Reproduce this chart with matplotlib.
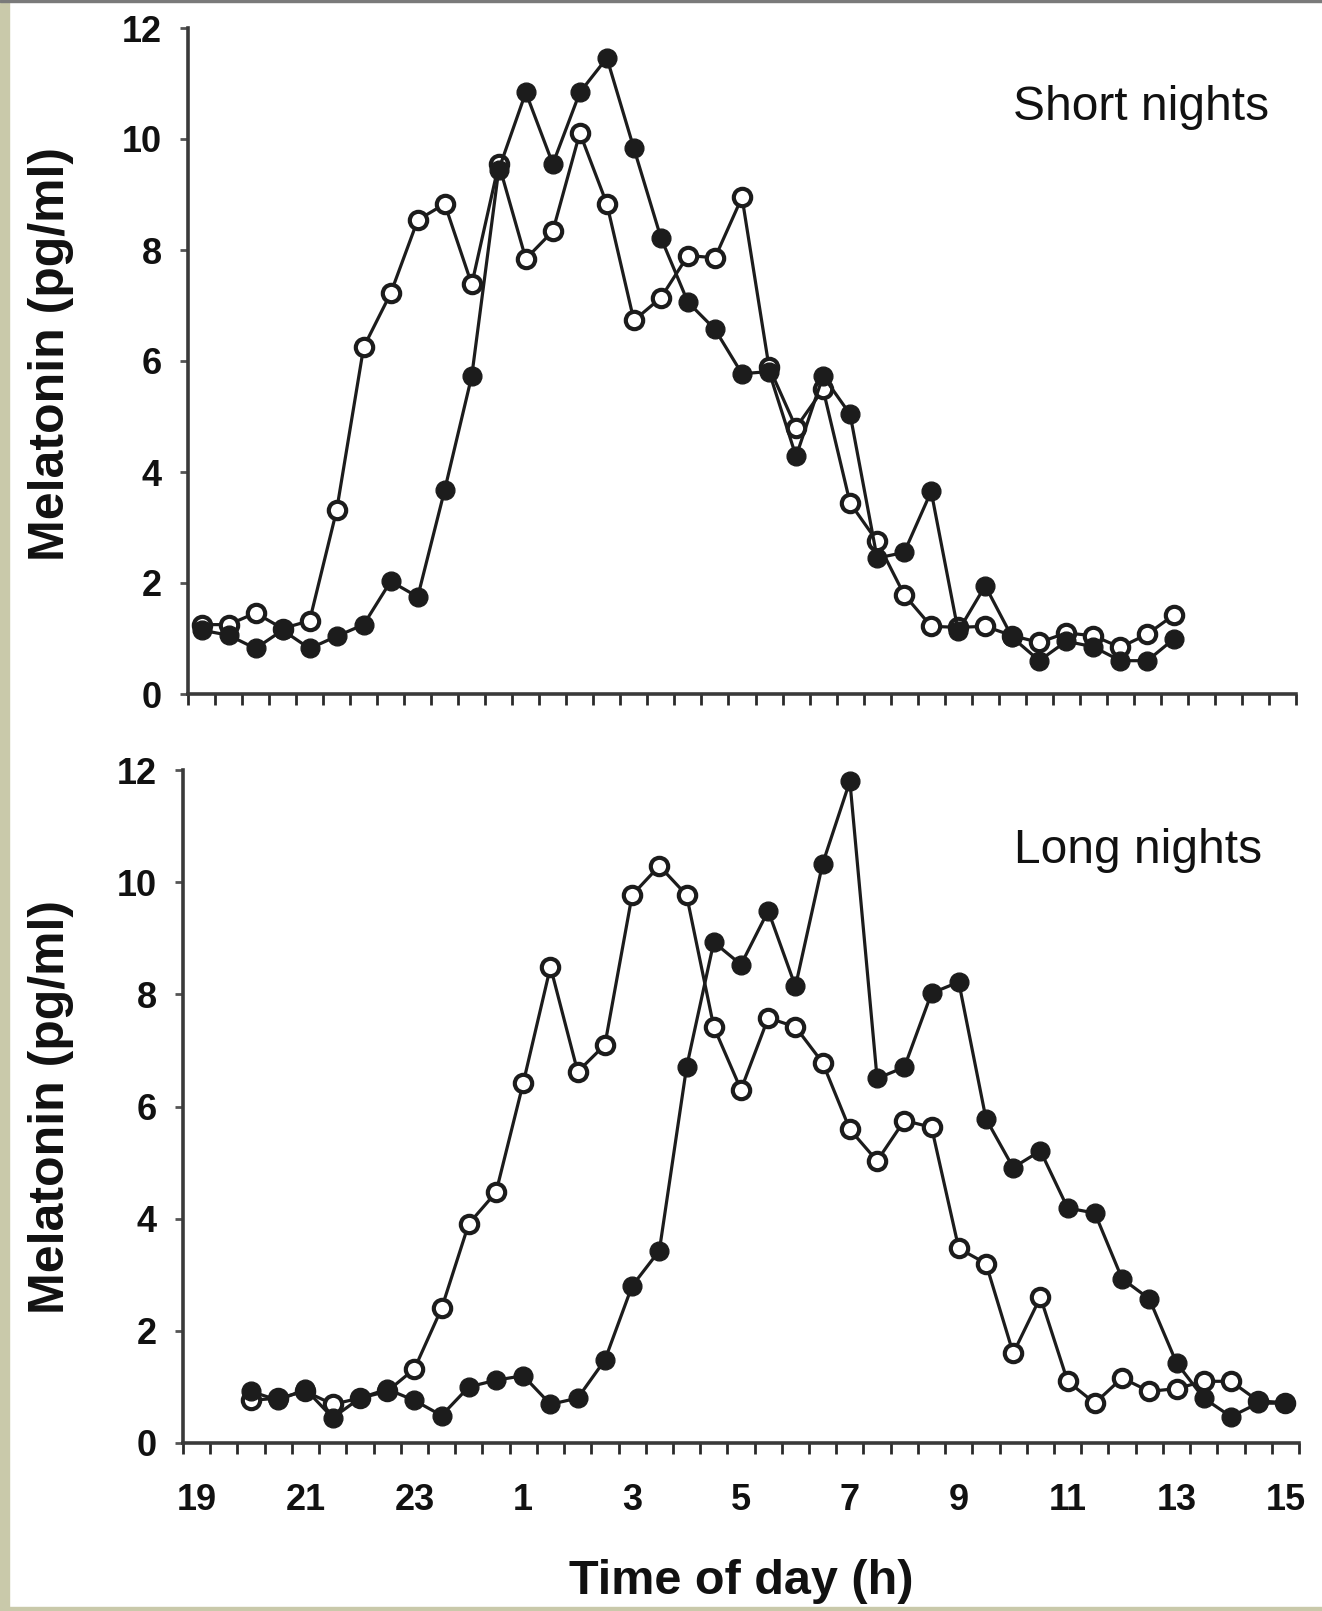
import numpy as np
import matplotlib
matplotlib.use("Agg")
import matplotlib.pyplot as plt
from matplotlib.patches import Rectangle

plt.rcParams['font.family'] = ['Liberation Sans', 'DejaVu Sans']

# sampling times in hours after midnight of day 1 (25 = 1 h next day)
t_short = np.arange(19, 37.01, 0.5)
t_long = np.arange(20, 39.01, 0.5)

# short nights
short_filled = [1.15, 1.06, 0.82, 1.15, 0.82, 1.04, 1.25, 2.03, 1.75, 3.68,
                5.73, 9.45, 10.84, 9.55, 10.84, 11.46, 9.83, 8.22, 7.06, 6.57,
                5.77, 5.81, 4.28, 5.73, 5.04, 2.45, 2.55, 3.65, 1.13, 1.95,
                1.02, 0.60, 0.95, 0.85, 0.60, 0.60, 1.00]
short_open = [1.25, 1.25, 1.46, 1.18, 1.32, 3.31, 6.25, 7.22, 8.54, 8.83,
              7.38, 9.55, 7.84, 8.34, 10.11, 8.83, 6.73, 7.14, 7.90, 7.86,
              8.95, 5.89, 4.80, 5.49, 3.44, 2.75, 1.79, 1.22, 1.20, 1.22,
              1.05, 0.93, 1.10, 1.05, 0.84, 1.08, 1.43]

# long nights
long_filled = [0.92, 0.76, 0.96, 0.45, 0.80, 0.96, 0.76, 0.49, 1.00, 1.12,
               1.20, 0.69, 0.80, 1.48, 2.80, 3.43, 6.70, 8.93, 8.53, 9.49,
               8.14, 10.33, 11.80, 6.50, 6.70, 8.02, 8.22, 5.78, 4.91, 5.21,
               4.19, 4.10, 2.93, 2.57, 1.43, 0.80, 0.47, 0.71, 0.71]
long_open = [0.76, 0.80, 0.92, 0.69, 0.80, 0.92, 1.32, 2.40, 3.91, 4.47,
             6.42, 8.49, 6.62, 7.10, 9.77, 10.29, 9.77, 7.42, 6.30, 7.58,
             7.42, 6.78, 5.59, 5.03, 5.75, 5.63, 3.47, 3.20, 1.60, 2.60,
             1.10, 0.71, 1.16, 0.92, 0.97, 1.10, 1.10, 0.75, 0.72]

xtick_pos = [19, 21, 23, 25, 27, 29, 31, 33, 35, 37, 39]
xtick_labels = ['19', '21', '23', '1', '3', '5', '7', '9', '11', '13', '15']
ytick_pos = [0, 2, 4, 6, 8, 10, 12]

W, H = 1322, 1611
fig = plt.figure(figsize=(W / 100, H / 100), dpi=100)

def axes_px(left, right, top, bottom):
    return fig.add_axes([left / W, 1 - bottom / H, (right - left) / W, (bottom - top) / H])

ax1 = axes_px(188, 1296, 28, 694)
ax2 = axes_px(183, 1299, 770, 1443)

lc = '#1c1c1c'

def draw(ax, t, opn, fil, title):
    ax.plot(t, opn, '-', color=lc, lw=2.3, marker='o', ms=12.5,
            mfc='white', mec=lc, mew=3.0, zorder=3, clip_on=False)
    ax.plot(t, fil, '-', color=lc, lw=2.3, marker='o', ms=13.5,
            mfc=lc, mec=lc, zorder=4, clip_on=False)
    ax.set_xlim(18.75, 39.25)
    ax.set_ylim(0, 12)
    for s in ['top', 'right']:
        ax.spines[s].set_visible(False)
    for s in ['left', 'bottom']:
        ax.spines[s].set_linewidth(2.6)
        ax.spines[s].set_color('#3a3a3a')
    ax.set_yticks(ytick_pos)
    ax.set_yticklabels([str(v) for v in ytick_pos], fontsize=26, fontweight='bold')
    ax.tick_params(axis='y', direction='out', length=6, width=2, color='#555555',
                   pad=13, labelcolor='#111111')
    ax.set_xticks(xtick_pos)
    ax.set_xticks(np.arange(18.75, 39.3, 0.5), minor=True)
    ax.tick_params(axis='x', which='major', length=0, pad=29)
    ax.tick_params(axis='x', which='minor', direction='out', length=8, width=2,
                   color='#2a2a2a')
    ax.set_ylabel('Melatonin (pg/ml)', fontsize=36, fontweight='bold', color='#111111')
    ax.yaxis.label.set_va('center')
    ax.text(0.745, 0.88, title, transform=ax.transAxes, fontsize=34.5,
            ha='left', va='center', color='#111111')

draw(ax1, t_short, short_open, short_filled, 'Short nights')
draw(ax2, t_long, long_open, long_filled, 'Long nights')

ax1.set_xticklabels([])
ax2.set_xticklabels(xtick_labels, fontsize=26, fontweight='bold', color='#111111')
ax1.yaxis.set_label_coords((51 - 188) / 1108, 0.51)
ax2.yaxis.set_label_coords((51 - 183) / 1116, 0.5)

ax2.set_xlabel('Time of day (h)', fontsize=35, fontweight='bold', color='#111111')
ax2.xaxis.label.set_va('center')
ax2.xaxis.set_label_coords(0.5, (1443 - 1582) / 673)

# frame of the scanned figure
fig.patches.append(Rectangle((0, 0), 9 / W, 1, transform=fig.transFigure,
                             color='#c9c9aa', zorder=0))
fig.patches.append(Rectangle((0, 0), 1, 4 / H, transform=fig.transFigure,
                             color='#c9c9aa', zorder=0))
fig.patches.append(Rectangle((0, 1 - 2 / H), 1, 2 / H, transform=fig.transFigure,
                             color='#7a7a7a', zorder=0))

fig.savefig('out.png', dpi=100)
